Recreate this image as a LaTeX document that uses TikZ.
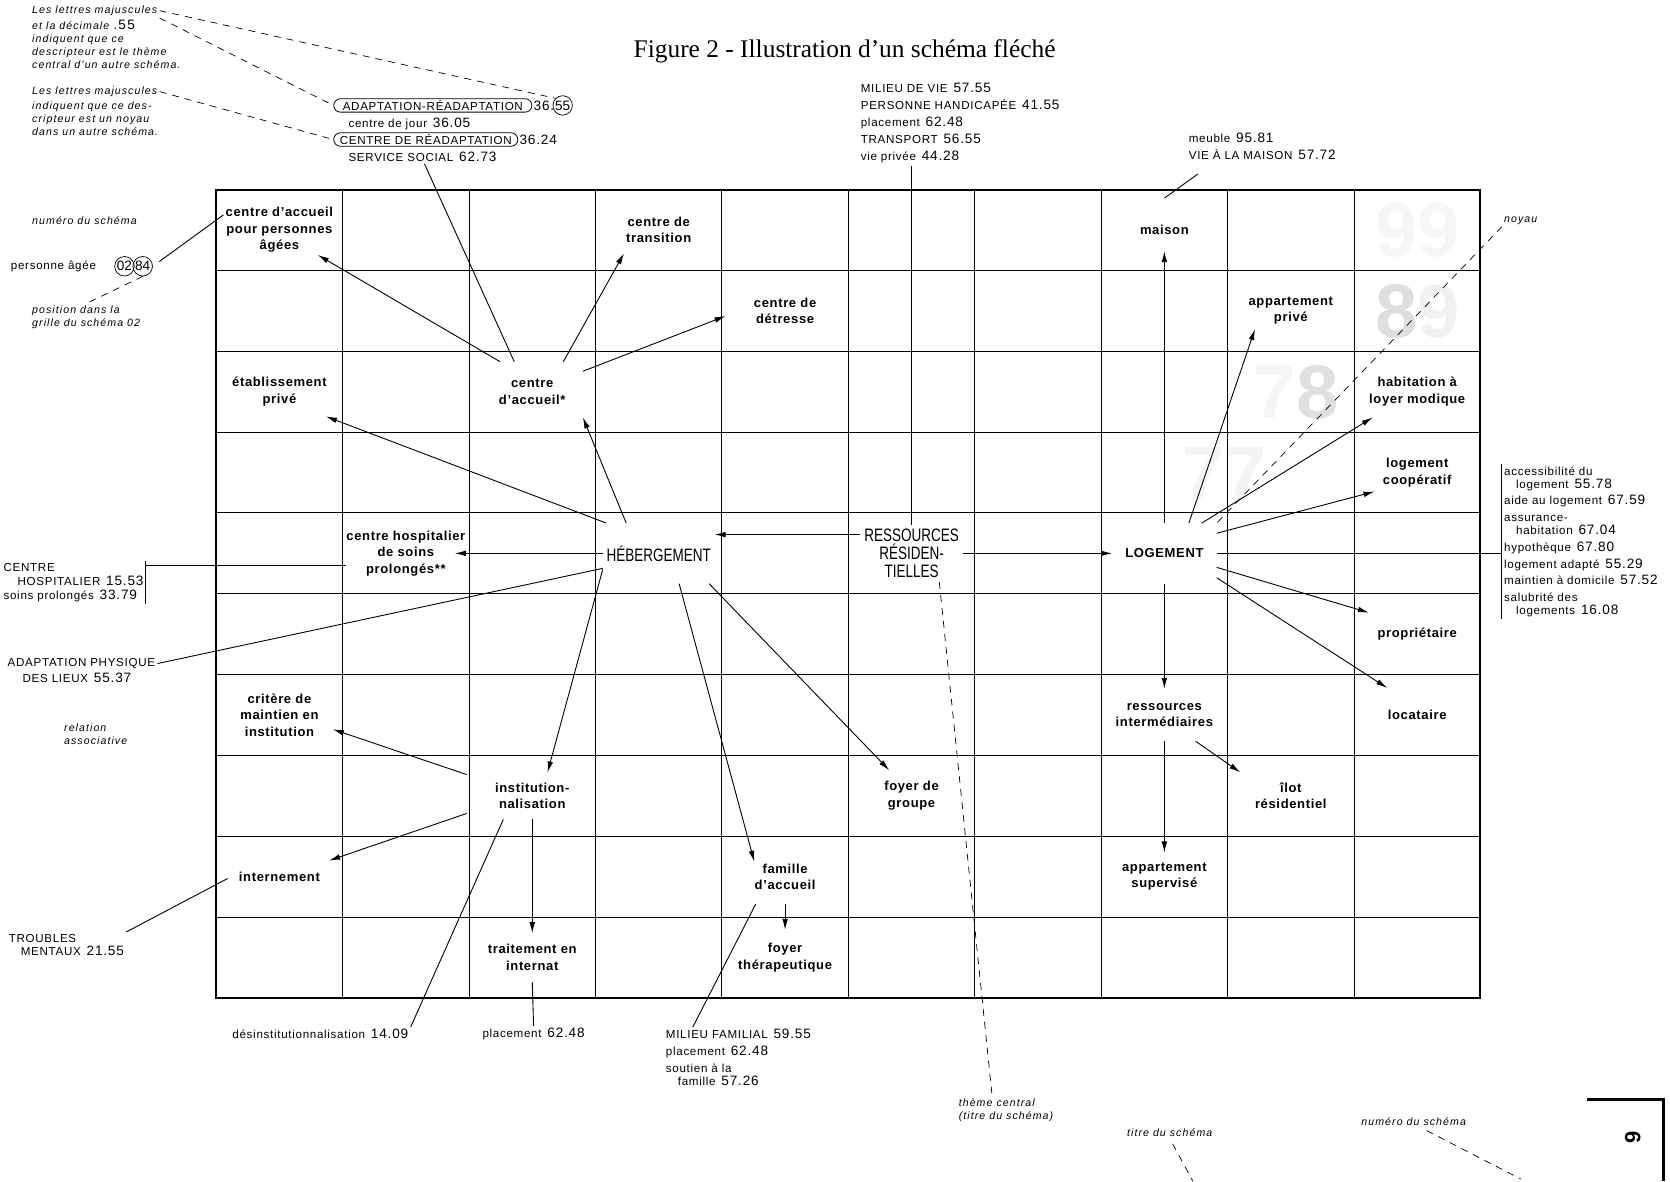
\documentclass[tikz,border=0pt]{standalone}
\usepackage{fontspec}
\setmainfont{Liberation Sans}
\newfontfamily\titrefont{Liberation Serif}
\newfontfamily\lblfont[LetterSpace=6]{Liberation Sans}
\newfontfamily\casefont[LetterSpace=5]{Liberation Sans}
\newfontfamily\notefont[LetterSpace=10]{Liberation Sans}
\newfontfamily\condfont[FakeStretch=0.75]{Liberation Sans}
\usetikzlibrary{arrows.meta,positioning}

\newcommand{\cote}[1]{{\fontsize{6.8}{7}\selectfont #1}}

\begin{document}
\begin{tikzpicture}[x=0.5325pt,y=-0.5325pt,
    case/.style={font=\casefont\bfseries\fontsize{6.5}{8.25}\selectfont, align=center},
    cond/.style={font=\condfont\fontsize{9}{9}\selectfont, align=center},
    lbl/.style={font=\lblfont\fontsize{5.8}{8.5}\selectfont, align=left, inner sep=1pt},
    note/.style={font=\notefont\itshape\fontsize{5.3}{6.5}\selectfont, align=left, inner sep=1pt},
    ovale/.style={lbl, draw, rounded corners=3.3pt, inner xsep=3pt, inner ysep=0.8pt, line width=0.4pt},
    cercle/.style={circle, draw, inner sep=0.3pt, line width=0.35pt},
    trame/.style={font=\bfseries\fontsize{38}{38}\selectfont, inner sep=0pt},
    fleche/.style={-{Latex[length=5.5pt,width=2.8pt]}, line width=0.45pt},
    lien/.style={line width=0.45pt},
    renvoi/.style={dash pattern=on 3.5pt off 3pt, line width=0.35pt}]
  \useasboundingbox (0,0) rectangle (1568,1109);

  \node[font=\titrefont\fontsize{12.7}{15}\selectfont] (titre) at (793,48) {Figure 2 - Illustration d’un schéma fléché};

  % chiffres tramés de la grille
  \node[trame] (t99) at (1331,216) {\color{gray!7}99};
  \node[trame] (t89) at (1331,292) {{\color{gray!26}8}{\color{gray!11}9}};
  \node[trame] (t78) at (1217,368) {{\color{gray!8}7}{\color{gray!24}8}};
  \node[trame] (t77) at (1150,444) {\color{gray!9}77};

  % la grille
  \draw[line width=1pt] (203,178) rectangle (1390,937);
  \draw[line width=0.5pt] (321.7,178) -- (321.7,937) (440.4,178) -- (440.4,937) (559.1,178) -- (559.1,937)
    (677.8,178) -- (677.8,937) (796.5,178) -- (796.5,937) (915.2,178) -- (915.2,937)
    (1033.9,178) -- (1033.9,937) (1152.6,178) -- (1152.6,937) (1271.3,178) -- (1271.3,937);
  \draw[line width=0.5pt] (203,253.9) -- (1390,253.9) (203,329.8) -- (1390,329.8) (203,405.7) -- (1390,405.7)
    (203,481.6) -- (1390,481.6) (203,557.5) -- (1390,557.5) (203,633.4) -- (1390,633.4)
    (203,709.3) -- (1390,709.3) (203,785.2) -- (1390,785.2) (203,861.1) -- (1390,861.1);

  % les descripteurs
  \node[case, inner sep=1pt] (cpa) at (262.35,215.95) {centre d’accueil\\pour personnes\\âgées};
  \node[case, inner sep=5pt] (trans) at (618.45,215.95) {centre de\\transition};
  \node[case, inner xsep=3pt, inner ysep=8pt] (maison) at (1093.25,215.95) {maison};
  \node[case, inner xsep=14pt, inner ysep=3pt] (detr) at (737.15,291.85) {centre de\\détresse};
  \node[case, inner sep=2pt] (appr) at (1211.95,291.85) {appartement\\privé};
  \node[case, inner sep=5pt] (etab) at (262.35,367.75) {établissement\\privé};
  \node[case, inner sep=8.5pt] (cda) at (499.75,367.75) {centre\\d’accueil*};
  \node[case, inner sep=5.5pt] (habit) at (1330.65,367.75) {habitation à\\loyer modique};
  \node[case, inner sep=4pt] (coop) at (1330.65,443.65) {logement\\coopératif};
  \node[case, inner sep=0pt] (cho) at (381.05,519.55) {centre hospitalier\\de soins\\prolongés**};
  \node[cond, inner xsep=1.7pt, inner ysep=11pt] (heb) at (618.45,519.55) {HÉBERGEMENT};
  \node[cond, inner sep=2pt] (res) at (855.85,519.55) {RESSOURCES\\RÉSIDEN-\\TIELLES};
  \node[case, inner xsep=6.4pt, inner ysep=12.6pt] (logt) at (1093.25,519.55) {LOGEMENT};
  \node[case, inner xsep=4.5pt, inner ysep=7.5pt] (prop) at (1330.65,595.45) {propriétaire};
  \node[case, inner sep=7pt] (crit) at (262.35,671.35) {critère de\\maintien en\\institution};
  \node[case, inner sep=7pt] (rint) at (1093.25,671.35) {ressources\\intermédiaires};
  \node[case, inner xsep=2pt, inner ysep=11pt] (loc) at (1330.65,671.35) {locataire};
  \node[case, inner xsep=14pt, inner ysep=5pt] (inst) at (499.75,747.25) {institution-\\nalisation};
  \node[case, inner sep=5.5pt] (foyg) at (855.85,747.25) {foyer de\\groupe};
  \node[case, inner xsep=8.5pt, inner ysep=5pt] (ilot) at (1211.95,747.25) {îlot\\résidentiel};
  \node[case, inner sep=5.5pt] (intern) at (262.35,823.15) {internement};
  \node[case, inner xsep=0pt, inner ysep=7pt] (fam) at (737.15,823.15) {famille\\d’accueil};
  \node[case, inner sep=5pt] (appsup) at (1093.25,823.15) {appartement\\supervisé};
  \node[case, inner xsep=3pt, inner ysep=5.5pt] (trait) at (499.75,899.05) {traitement en\\internat};
  \node[case, inner xsep=3pt, inner ysep=6.5pt] (foyth) at (737.15,899.05) {foyer\\thérapeutique};

  % les relations
  \draw[fleche] (res.160) -- (res.160 -| heb.east);
  \draw[fleche] (res) -- (logt);
  \draw[fleche] (heb.137) -- (cda.-27);
  \draw[fleche] (heb.150) -- (etab.-28);
  \draw[fleche, shorten >=24.5pt] (heb.west) -- (cho.center);
  \draw[fleche] (heb.196) -- (inst.57);
  \draw[fleche] (heb.-56) -- (fam.154);
  \draw[fleche] (heb.-31) -- (foyg.131);
  \draw[fleche] (cda.137) -- (cpa.-33);
  \draw[fleche] (cda.44) -- (trans.214);
  \draw[fleche] (cda.22) -- (detr.185);
  \draw[fleche] (logt.north) -- (maison.south);
  \draw[fleche] (logt.51) -- (appr.207);
  \draw[fleche] (logt.39) -- (habit.210);
  \draw[fleche] (logt.21) -- (coop.204);
  \draw[fleche] (logt.-15) -- (prop.156);
  \draw[fleche] (logt.-25) -- (loc.138);
  \draw[fleche] (logt.south) -- (rint.north);
  \draw[fleche] (rint.-40) -- (ilot.155);
  \draw[fleche] (rint.south) -- (appsup.north);
  \draw[fleche] (inst.162) -- (crit.-15);
  \draw[fleche] (inst.195) -- (intern.18);
  \draw[fleche] (inst.south) -- (trait.north);
  \draw[fleche] (fam.south) -- (foyth.north);

  % renvois du haut
  \node[note, anchor=west] (maj1) at (28,10) {Les lettres majuscules};
  \node[note, anchor=north west] (maj1b) at (maj1.south west) {et la décimale {\upshape\cote{.55}}\\indiquent que ce\\descripteur est le thème\\central d’un autre schéma.};
  \node[note, anchor=west] (maj2) at (28,86) {Les lettres majuscules};
  \node[note, anchor=north west] (maj2b) at (maj2.south west) {indiquent que ce des-\\cripteur est un noyau\\dans un autre schéma.};
  \node[ovale, anchor=west, inner xsep=4.5pt] (adapt) at (313,99) {ADAPTATION-RÉADAPTATION};
  \node[lbl, right=0.5pt of adapt, inner sep=0pt] (ad36) {\cote{36.}};
  \node[cercle, right=-1pt of ad36] (c55) {\cote{55}};
  \node[lbl, anchor=west] (jour) at (325,116) {centre de jour\enspace\cote{36.05}};
  \node[ovale, anchor=west] (crea) at (313,131) {CENTRE DE RÉADAPTATION};
  \node[lbl, right=0.5pt of crea, inner sep=0pt] (cr36) {\cote{36.24}};
  \node[lbl, anchor=west] (svc) at (325,147) {SERVICE SOCIAL\enspace\cote{62.73}};
  \draw[renvoi] (maj1.east) -- (c55.north west);
  \draw[renvoi] (maj1.south east) -- (adapt.west);
  \draw[renvoi] (maj2.east) -- (crea.west);
  \draw[lien] (svc.-75) -- (cda.121);

  \node[lbl, anchor=north west] (mvn) at (806,76) {MILIEU DE VIE\enspace\cote{57.55}\\PERSONNE HANDICAPÉE\enspace\cote{41.55}\\placement\enspace\cote{62.48}\\TRANSPORT\enspace\cote{56.55}\\vie privée\enspace\cote{44.28}};
  \draw[lien] (res.north |- mvn.south) -- (res.north);
  \node[lbl, anchor=north west] (vien) at (1114,123) {meuble\enspace\cote{95.81}\\VIE À LA MAISON\enspace\cote{57.72}};
  \draw[lien, shorten <=9.9pt, shorten >=9.2pt] (vien.198) -- (maison.125);

  % renvois de gauche
  \node[note, anchor=west] (numg) at (28,207) {numéro du schéma};
  \node[lbl, anchor=west] (pagee) at (8,250) {personne âgée};
  \node[cercle, right=8pt of pagee] (n02) {\cote{02}};
  \node[cercle, right=-1pt of n02] (n84) {\cote{84}};
  \node[note, anchor=north west] (posn) at (28,285) {position dans la\\grille du schéma 02};
  \draw[lien, shorten <=4pt] (n84.east) -- (cpa.165);
  \draw[renvoi] (n84.south) -- (posn.north);

  \node[lbl, anchor=east, font=\lblfont\fontsize{5.8}{7}\selectfont] (chn) at (137,547) {CENTRE\\\hspace*{7pt}HOSPITALIER\enspace\cote{15.53}\\soins prolongés\enspace\cote{33.79}};
  \draw[lien] (chn.north east) -- (chn.south east);
  \draw[lien] (cho.191 -| chn.east) -- (cho.191);
  \node[lbl, anchor=west] (apl) at (5,623) {ADAPTATION PHYSIQUE};
  \node[lbl, anchor=west] (lieux) at (19,636) {DES LIEUX\enspace\cote{55.37}};
  \draw[lien] (apl.east) -- (heb.195);
  \node[note, anchor=north west] (reln) at (58,677) {relation\\associative};
  \node[lbl, anchor=north west, font=\lblfont\fontsize{5.8}{6.4}\selectfont] (trm) at (6,875) {TROUBLES\\\hspace*{6pt}MENTAUX\enspace\cote{21.55}};
  \draw[lien] (trm.north east) -- (intern.182);

  % renvois du bas
  \node[lbl, anchor=west] (desn) at (216,971) {désinstitutionnalisation\enspace\cote{14.09}};
  \draw[lien] (desn.north east) -- (inst.219);
  \node[lbl] (pln) at (501,971) {placement\enspace\cote{62.48}};
  \draw[lien] (trait.south) -- (pln.north);
  \node[lbl, anchor=west] (mfn) at (623,971) {MILIEU FAMILIAL\enspace\cote{59.55}};
  \node[lbl, anchor=north west, font=\lblfont\fontsize{5.8}{6.4}\selectfont] (mfn2) at (623,980) {placement\enspace\cote{62.48}\\[2pt]soutien à la\\\hspace*{6pt}famille\enspace\cote{57.26}};
  \draw[lien] (mfn.171) -- (fam.223);
  \node[note, anchor=north west] (themen) at (898,1029) {thème central\\(titre du schéma)};
  \draw[renvoi] (res.-46) -- (themen.135);
  \node[note, anchor=west] (titren) at (1056,1063) {titre du schéma};
  \coordinate (titrebas) at (1120,1109);
  \draw[renvoi, shorten <=3pt] (titren.south) -- (titrebas);
  \node[note, anchor=west] (numb) at (1276,1053) {numéro du schéma};
  \coordinate (numbas) at (1428,1107);
  \draw[renvoi, shorten <=3pt] (numb.-40) -- (numbas);

  % renvois de droite
  \node[note, anchor=west] (noyau) at (1410,207) {noyau};
  \draw[renvoi] (noyau.south west) -- (logt.north east);
  \node[lbl, anchor=north west, font=\lblfont\fontsize{5.8}{6.4}\selectfont] (accn) at (1410,436) {accessibilité du\\\hspace*{6pt}logement\enspace\cote{55.78}\\[2pt]aide au logement\enspace\cote{67.59}\\[2pt]assurance-\\\hspace*{6pt}habitation\enspace\cote{67.04}\\[2pt]hypothèque\enspace\cote{67.80}\\[2pt]logement adapté\enspace\cote{55.29}\\[2pt]maintien à domicile\enspace\cote{57.52}\\[2pt]salubrité des\\\hspace*{6pt}logements\enspace\cote{16.08}};
  \draw[lien] (accn.north west) -- (accn.south west);
  \draw[lien] (logt.east) -- (logt.east -| accn.west);

  % coin de page
  \draw[line width=1.6pt] (1490,1032) -- (1562,1032) -- (1562,1109);
  \node[rotate=90, font=\bfseries\fontsize{11}{11}\selectfont] (folio) at (1533,1068) {9};
\end{tikzpicture}
\end{document}
